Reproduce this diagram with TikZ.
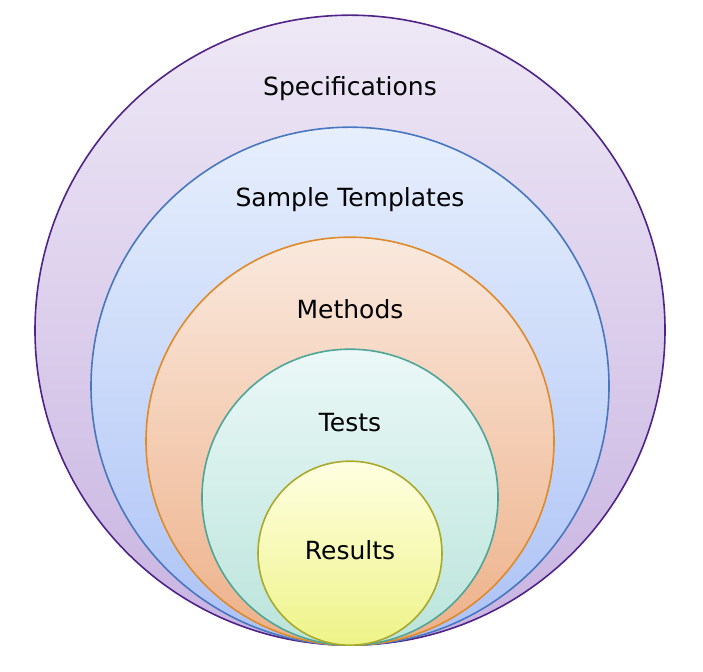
\documentclass[tikz,border=0pt]{standalone}
\usepackage{fontspec}
\setmainfont{DejaVu Sans}

\definecolor{specline}{HTML}{4F2388}
\definecolor{spectop}{HTML}{EEE8F6}
\definecolor{specbot}{HTML}{C8B3E1}
\definecolor{tmplline}{HTML}{4677BF}
\definecolor{tmpltop}{HTML}{E7EFFD}
\definecolor{tmplbot}{HTML}{ACC2F6}
\definecolor{methline}{HTML}{DF8A2A}
\definecolor{methtop}{HTML}{FAE9DE}
\definecolor{methbot}{HTML}{EDB088}
\definecolor{testline}{HTML}{4FA597}
\definecolor{testtop}{HTML}{EBF8F7}
\definecolor{testbot}{HTML}{BAE4DB}
\definecolor{resline}{HTML}{A9A92C}
\definecolor{restop}{HTML}{FFFFE2}
\definecolor{resbot}{HTML}{EEF388}

\begin{document}
\begin{tikzpicture}[x=1pt, y=1pt,
	ring/.style={circle, draw, line width=1.6pt, inner sep=0pt, anchor=south},
	lbl/.style={anchor=base, font=\fontsize{25}{30}\selectfont}]
	\useasboundingbox (0,0) rectangle (703,671);
	\coordinate (foot) at (350,25);
	
	\node[ring, minimum size=630pt, draw=specline, top color=spectop, bottom color=specbot] (spec) at (foot) {};
	\node[ring, minimum size=518pt, draw=tmplline, top color=tmpltop, bottom color=tmplbot] (tmpl) at (foot) {};
	\node[ring, minimum size=408pt, draw=methline, top color=methtop, bottom color=methbot] (meth) at (foot) {};
	\node[ring, minimum size=296pt, draw=testline, top color=testtop, bottom color=testbot] (test) at (foot) {};
	\node[ring, minimum size=184pt, draw=resline, top color=restop, bottom color=resbot] (res) at (foot) {};
	
	\node[lbl] (specl) at (350,575) {Specifications};
	\node[lbl] (tmpll) at (350,464) {Sample Templates};
	\node[lbl] (methl) at (350,352) {Methods};
	\node[lbl] (testl) at (350,239) {Tests};
	\node[lbl] (resl) at (350,111) {Results};
\end{tikzpicture}
\end{document}
